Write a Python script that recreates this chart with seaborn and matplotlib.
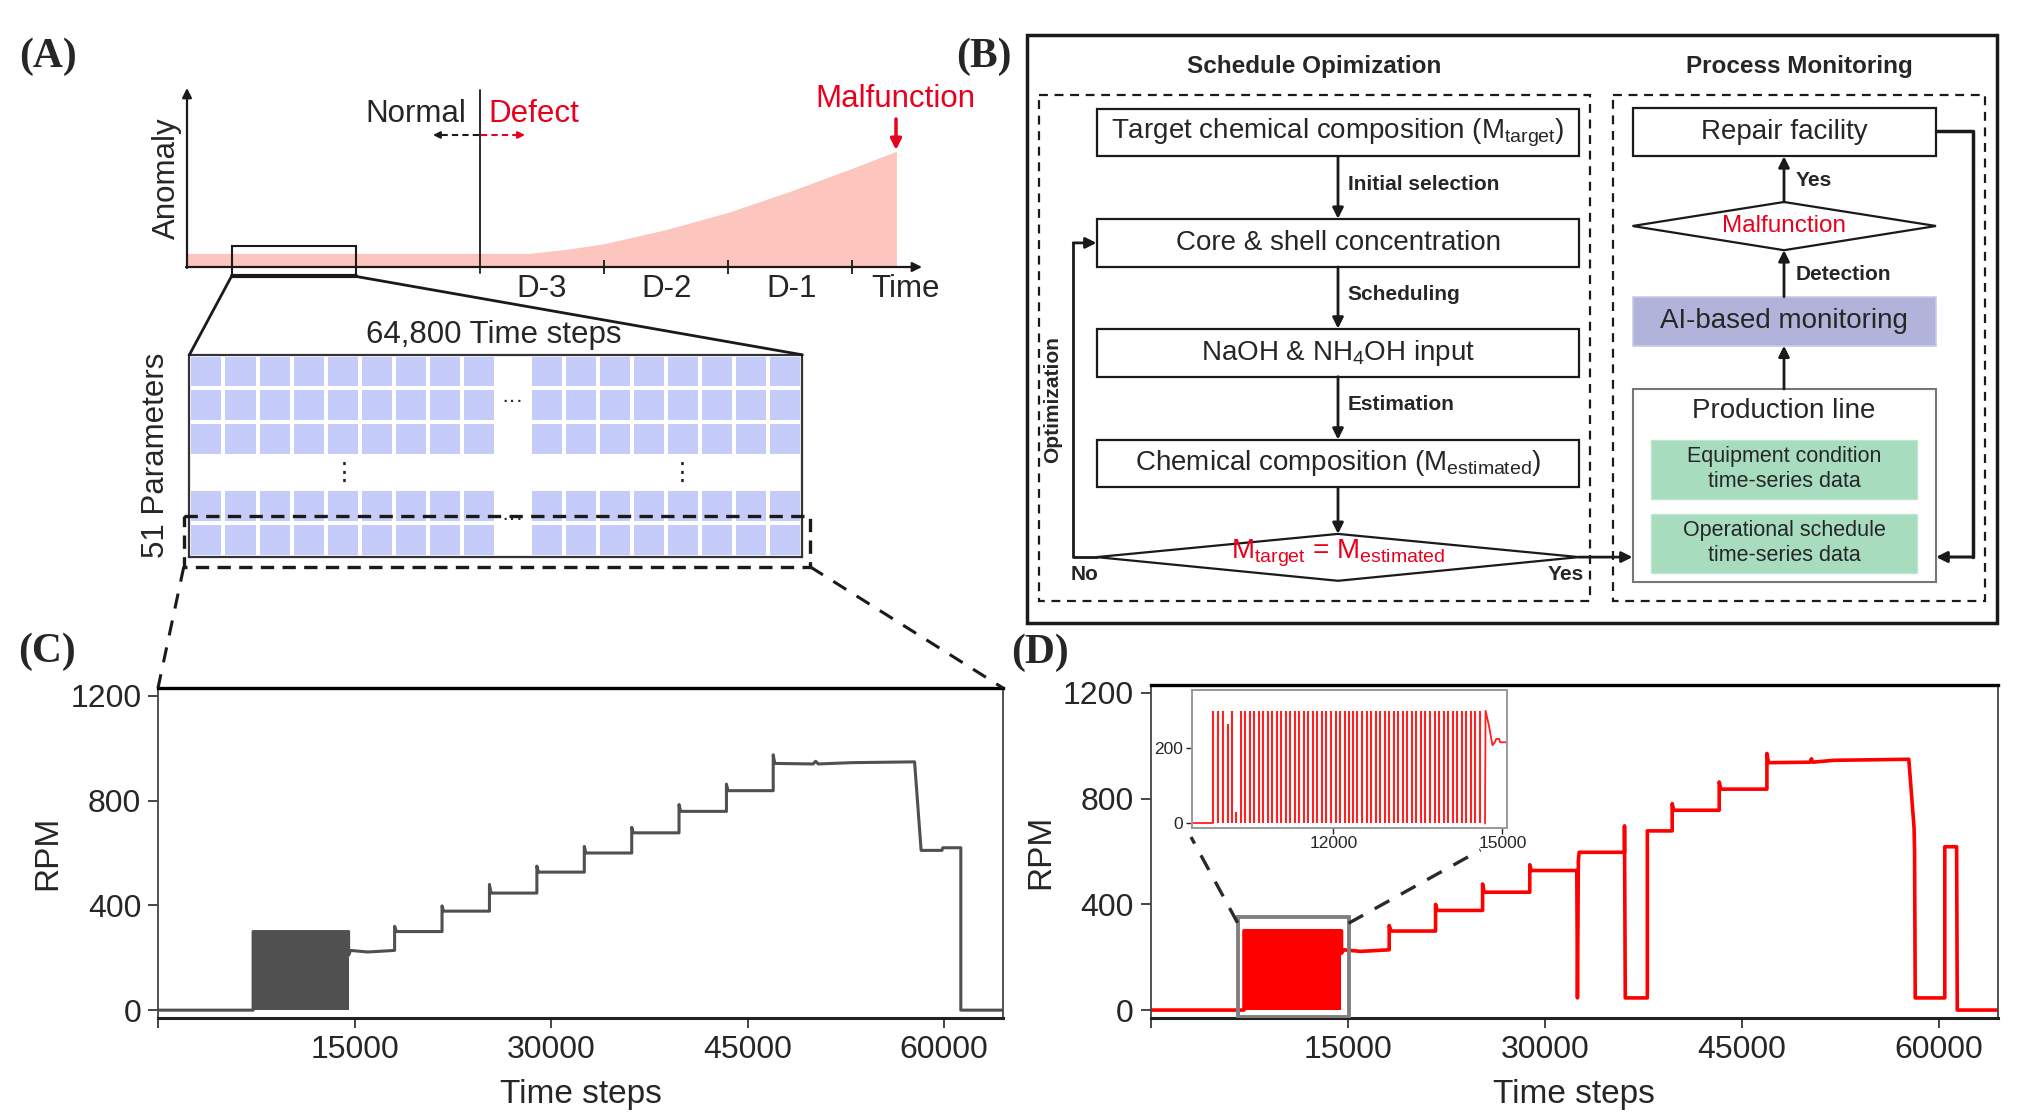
import numpy as np
import matplotlib
matplotlib.use('Agg')
import matplotlib.pyplot as plt
import seaborn as sns
from matplotlib.patches import Rectangle, Polygon
from matplotlib.colors import ListedColormap

W, H = 2044, 1119

# ---- Panel A: anomaly schematic (days relative to defect onset) ----
anom_day = [-2.36, 0.4, 0.7, 1.0, 1.5, 2.0, 2.5, 3.0, 3.36]
anom_level = [0.77, 0.77, 1.0, 1.31, 2.11, 3.08, 4.27, 5.57, 6.54]
day_ticks = [1, 2, 3]
day_labels = ['D-3', 'D-2', 'D-1', 'Time']

# data matrix sketch: 6 rows x 18 cols, one row / one column left out
grid_rows, grid_cols = 6, 18
gap_row, gap_col = 3, 9

# ---- Panel C: normal RPM trace ----
c_block = [7260, 14550]
c_time = [0, 7260, 7260, 14550, 14550, 14700, 16000, 18060, 18060, 18200, 21680, 21680, 21800,
          25300, 25300, 25420, 28920, 28920, 29040, 32540, 32540, 32660, 36160, 36160, 36280,
          39770, 39770, 39890, 43390, 43390, 43510, 46960, 46960, 47080, 50000, 50200, 50400,
          53000, 57750, 58250, 59840, 59900, 61280, 61280, 64500]
c_rpm = [0, 0, 300, 300, 210, 228, 222, 228, 320, 300, 300, 398, 378,
         378, 480, 447, 447, 550, 527, 527, 625, 600, 600, 698, 677,
         677, 785, 759, 759, 863, 838, 838, 975, 942, 940, 950, 940,
         945, 948, 610, 610, 620, 620, 0, 0]

# ---- Panel D: abnormal RPM trace ----
d_block = [7110, 14530]
d_time = [0, 7110, 7110, 14530, 14530, 14700, 16000, 18160, 18160, 18300, 21690, 21690, 21810,
          25270, 25270, 25390, 28860, 28860, 28980, 32440, 32490, 32560, 32620, 36070, 36070,
          36130, 37810, 37810, 39700, 39700, 39820, 43280, 43280, 43400, 46910, 46910, 47030,
          50200, 50300, 50400, 52000, 57710, 58110, 58150, 58200, 60450, 60450, 61350, 61400, 64500]
d_rpm = [0, 0, 300, 300, 215, 228, 222, 228, 320, 299, 299, 400, 377,
         377, 477, 446, 446, 550, 528, 528, 46, 568, 597, 597, 697,
         46, 46, 678, 678, 781, 756, 756, 863, 836, 836, 971, 936,
         938, 951, 938, 945, 949, 691, 600, 46, 46, 618, 618, 0, 0]

# inset: pulse times of the oscillation and the settling tail
inset_pulses = [9875, 9955, 10040, 10125, 10200, 10280, 10360, 10435, 10520, 10600, 10680, 10760,
                10840, 10920, 11000, 11080, 11160, 11240, 11315, 11400, 11475, 11555, 11640,
                11715, 11800, 11875, 11960, 12040, 12120, 12200, 12285, 12345, 12425, 12510,
                12590, 12670, 12750, 12830, 12910, 12990, 13070, 13150, 13235, 13310, 13395,
                13475, 13555, 13635, 13715, 13795, 13875, 13955, 14035, 14115, 14195, 14280,
                14355, 14440, 14520, 14600]
inset_heights = [300, 300, 300, 265, 300, 30, 300, 300, 300, 300, 300, 300,
                 300, 300, 300, 300, 300, 300, 300, 300, 300, 300, 300,
                 300, 300, 300, 300, 300, 300, 300, 300, 300, 300, 300,
                 300, 300, 300, 300, 300, 300, 300, 300, 300, 300, 300,
                 300, 300, 300, 300, 300, 300, 300, 300, 300, 300, 300,
                 300, 300, 300, 300]
inset_tail_t = [14690, 14700, 14760, 14823, 14860, 14890, 14940, 14960, 15080]
inset_tail_rpm = [0, 300, 260, 208, 215, 225, 225, 216, 216]

rpm_ticks = [0, 400, 800, 1200]
time_ticks = [0, 15000, 30000, 45000, 60000]

sns.set_style('ticks')
plt.rcParams['font.family'] = ['Liberation Sans', 'DejaVu Sans']
plt.rcParams['mathtext.fontset'] = 'custom'
plt.rcParams['mathtext.rm'] = 'Liberation Sans'
plt.rcParams['mathtext.it'] = 'Liberation Sans:italic'
plt.rcParams['mathtext.bf'] = 'Liberation Sans:bold'

RED = '#e8001c'
INK = '#1a1a1a'

fig = plt.figure(figsize=(W / 100, H / 100), dpi=100)


def px_axes(x0, y0, x1, y1, **kw):
    return fig.add_axes([x0 / W, 1 - y1 / H, (x1 - x0) / W, (y1 - y0) / H], **kw)


ov = px_axes(0, 0, W, H, zorder=10)
ov.set_xlim(0, W)
ov.set_ylim(H, 0)
ov.axis('off')
ov.patch.set_alpha(0)


def arrow(x0, y0, x1, y1, lw=2.0, color=INK, ms=16):
    ov.annotate('', xy=(x1, y1), xytext=(x0, y0),
                arrowprops=dict(arrowstyle='-|>', lw=lw, color=color, mutation_scale=ms,
                                shrinkA=0, shrinkB=0))


def label(x, y, s):
    ov.text(x, y, s, fontsize=30, fontweight='bold', family='Liberation Serif',
            ha='center', va='center')


# ================= Panel A =================
label(48, 57, '(A)')
anom = px_axes(187, 90, 920, 267)
anom.set_xlim(-2.36, 3.55)
anom.set_ylim(0, 10)
anom.axis('off')
anom.fill_between(anom_day, 0, anom_level, color='#fcc5bd', lw=0)
anom.plot([0, 0], [-0.33, 10], color=INK, lw=1.3, clip_on=False)
anom.vlines(day_ticks, -0.37, 0.4, color=INK, lw=1.3, clip_on=False)
anom.add_patch(Rectangle((-2, -0.53), 1, 1.73, fill=False, ec=INK, lw=1.5, clip_on=False))
anom.plot([-2, -1], [-0.53, -0.53], color=INK, lw=3, clip_on=False)

arrow(187, 268, 187, 88, lw=1.6, ms=14)
arrow(186, 267, 922, 267, lw=1.6, ms=14)
ov.text(466, 114, 'Normal', fontsize=22.5, ha='right', va='center')
ov.text(488, 114, 'Defect', fontsize=22.5, ha='left', va='center', color=RED)
ov.plot([479, 440], [135, 135], color=INK, lw=1.5, ls=(0, (3, 2)))
ov.plot([481, 518], [135, 135], color=RED, lw=1.5, ls=(0, (3, 2)))
arrow(440, 135, 433, 135, lw=1.5, ms=10)
arrow(518, 135, 525, 135, lw=1.5, color=RED, ms=10)
ov.text(895, 99, 'Malfunction', fontsize=22.5, ha='center', va='center', color=RED)
arrow(896, 119, 896, 150, lw=2.5, color=RED, ms=16)
for xc, s in zip([542, 666.5, 792, 905.6], day_labels):
    ov.text(xc, 289, s, fontsize=22.5, ha='center', va='center')
ov.text(167, 178, 'Anomaly', fontsize=22.5, rotation=90, ha='center', va='center')

ov.plot([231.5, 189.4], [276.3, 354.8], color=INK, lw=2)
ov.plot([355.2, 802.3], [276.3, 354.8], color=INK, lw=2)
ov.text(494, 335, '64,800 Time steps', fontsize=22.5, ha='center', va='center')
ov.text(156, 455, '51 Parameters', fontsize=22.5, rotation=90, ha='center', va='center')

hm = px_axes(189.4, 354.8, 802.3, 556.8)
grid = np.ones((grid_rows, grid_cols))
mask = np.zeros_like(grid, dtype=bool)
mask[gap_row, :] = True
mask[:, gap_col] = True
sns.heatmap(grid, mask=mask, cmap=ListedColormap(['#c6ccfa']), cbar=False,
            linewidths=2.6, linecolor='white', xticklabels=False, yticklabels=False, ax=hm)
for s in hm.spines.values():
    s.set_visible(True)
    s.set_color('#333333')
    s.set_linewidth(1.6)
ov.text(512, 402, '···', fontsize=16, ha='center', va='center')
ov.text(512, 520, '···', fontsize=16, ha='center', va='center')
ov.text(344, 473, '⋮', fontsize=18, ha='center', va='center', family=['DejaVu Sans'])
ov.text(682, 473, '⋮', fontsize=18, ha='center', va='center', family=['DejaVu Sans'])
ov.add_patch(Rectangle((183.8, 516), 626.2, 50.7, fill=False, ec=INK, lw=2.4,
                       ls=(0, (4, 2.5))))
ov.plot([183.8, 158], [566.7, 688], color=INK, lw=2.2, ls=(0, (5, 4)))
ov.plot([810, 1003], [566.7, 688], color=INK, lw=2.2, ls=(0, (5, 4)))

# ================= Panel B =================
label(984, 57, '(B)')
ov.add_patch(Rectangle((1026.6, 34.7), 970, 588.6, fill=False, ec=INK, lw=2.5))
ov.text(1314, 67, 'Schedule Opimization', fontsize=17.5, fontweight='bold', ha='center', va='center')
ov.text(1799, 67, 'Process Monitoring', fontsize=17.5, fontweight='bold', ha='center', va='center')
ov.add_patch(Rectangle((1038.6, 94.7), 551.3, 506.5, fill=False, ec=INK, lw=1.6, ls=(0, (4, 3))))
ov.add_patch(Rectangle((1612.5, 94.7), 372.9, 506.5, fill=False, ec=INK, lw=1.6, ls=(0, (4, 3))))

left_boxes = [(108.6, 156.3, r'Target chemical composition (M$_\mathrm{target}$)'),
              (218.8, 267.0, 'Core & shell concentration'),
              (328.6, 376.7, r'NaOH & NH$_4$OH input'),
              (439.6, 487.3, r'Chemical composition (M$_\mathrm{estimated}$)')]
for y0, y1, s in left_boxes:
    ov.add_patch(Rectangle((1096.5, y0), 482.7, y1 - y0, fc='white', ec=INK, lw=1.6))
    ov.text(1338, (y0 + y1) / 2, s, fontsize=20, ha='center', va='center')
arrow(1338, 156.3, 1338, 218.8)
arrow(1338, 267.0, 1338, 328.6)
arrow(1338, 376.7, 1338, 439.6)
arrow(1338, 487.3, 1338, 533.9)
for yc, s in [(185, 'Initial selection'), (295, 'Scheduling'), (404, 'Estimation')]:
    ov.text(1347.5, yc, s, fontsize=15, fontweight='bold', ha='left', va='center')
ov.add_patch(Polygon([(1096.5, 557.1), (1338, 533.9), (1579, 557.1), (1338, 580.8)],
                     closed=True, fc='white', ec=INK, lw=1.6))
ov.text(1338, 553, r'M$_\mathrm{target}$ = M$_\mathrm{estimated}$', fontsize=20,
        ha='center', va='center', color=RED)
ov.text(1084.6, 575, 'No', fontsize=15, fontweight='bold', ha='center', va='center')
ov.text(1566, 575, 'Yes', fontsize=15, fontweight='bold', ha='center', va='center')
ov.plot([1096.5, 1073.2, 1073.2], [557.1, 557.1, 242.9], color=INK, lw=2)
arrow(1073.2, 242.9, 1096.5, 242.9)
ov.text(1053, 400, 'Optimization', fontsize=15, fontweight='bold', rotation=90,
        ha='center', va='center')
arrow(1579, 557.1, 1632.5, 557.1)

ov.add_patch(Rectangle((1632.5, 107.8), 303.5, 48.5, fc='white', ec=INK, lw=1.6))
ov.text(1784, 132, 'Repair facility', fontsize=20, ha='center', va='center')
ov.add_patch(Polygon([(1632.5, 226), (1784, 202), (1936, 226), (1784, 250.2)],
                     closed=True, fc='white', ec=INK, lw=1.6))
ov.text(1784, 226, 'Malfunction', fontsize=17.5, ha='center', va='center', color=RED)
arrow(1784, 202, 1784, 156.3)
ov.text(1796, 180, 'Yes', fontsize=15, fontweight='bold', ha='left', va='center')
ov.add_patch(Rectangle((1632.5, 296.7), 303.5, 49, fc='#b1b3da', ec='#c9cbe6', lw=1.2))
ov.text(1784, 321, 'AI-based monitoring', fontsize=20, ha='center', va='center')
arrow(1784, 296.7, 1784, 250.2)
ov.text(1796, 274, 'Detection', fontsize=15, fontweight='bold', ha='left', va='center')
ov.add_patch(Rectangle((1632.5, 389), 303.5, 192.6, fc='white', ec='#777777', lw=1.5))
arrow(1784, 389, 1784, 345.7)
ov.text(1784, 411, 'Production line', fontsize=20, ha='center', va='center')
for y0, y1, s in [(440, 498.8, 'Equipment condition\ntime-series data'),
                  (513.5, 572.7, 'Operational schedule\ntime-series data')]:
    ov.add_patch(Rectangle((1651, y0), 266.4, y1 - y0, fc='#a7dcbf', ec='#bfe6d0', lw=1))
    ov.text(1784, (y0 + y1) / 2, s, fontsize=15.5, ha='center', va='center', linespacing=1.25)
ov.plot([1936, 1973.4, 1973.4], [131.4, 131.4, 557], color=INK, lw=2.5)
arrow(1973.4, 557, 1936, 557, lw=2.2)


# ================= Panels C and D =================
def style_rpm(ax):
    ax.set_xlim(0, 64500)
    ax.set_ylim(-30, 1230)
    ax.set_xticks(time_ticks)
    ax.set_xticklabels([''] + [str(t) for t in time_ticks[1:]])
    ax.set_yticks(rpm_ticks)
    ax.tick_params(labelsize=23, length=7, width=1.2, direction='out', pad=5)
    ax.spines['top'].set_linewidth(2.4)
    ax.spines['top'].set_color('black')
    ax.spines['bottom'].set_linewidth(2.2)
    ax.spines['bottom'].set_color('#222222')
    for s in ['left', 'right']:
        ax.spines[s].set_linewidth(1.3)
        ax.spines[s].set_color('#444444')
    ax.set_xlabel('Time steps', fontsize=24, labelpad=10)
    ax.set_ylabel('RPM', fontsize=24, labelpad=5)


label(47, 652, '(C)')
ax_c = px_axes(158, 688, 1003, 1018)
ax_c.fill_between(c_block, 0, 300, color='#505050', lw=0)
sns.lineplot(x=c_time, y=c_rpm, sort=False, estimator=None, color='#505050', lw=2.2, ax=ax_c)
style_rpm(ax_c)

label(1040, 653, '(D)')
ax_d = px_axes(1150.6, 685, 1998, 1018)
ax_d.fill_between(d_block, 0, 300, color='#ff0000', lw=0)
sns.lineplot(x=d_time, y=d_rpm, sort=False, estimator=None, color='#ff0000', lw=2.6, ax=ax_d)
ax_d.add_patch(Rectangle((6617, -25), 8457, 379, fill=False, ec='#808080', lw=2.8, zorder=3))
style_rpm(ax_d)

ax_in = px_axes(1191.7, 690, 1507, 828, zorder=5)
ax_in.set_facecolor('white')
ax_in.vlines(inset_pulses, 0, inset_heights, color='#ff2020', lw=1.5)
sns.lineplot(x=[9490, inset_pulses[0]], y=[0, 0], color='#ff2020', lw=1.3, ax=ax_in)
sns.lineplot(x=inset_tail_t, y=inset_tail_rpm, sort=False, estimator=None,
             color='#ff2020', lw=1.3, ax=ax_in)
ax_in.set_xlim(9490, 15080)
ax_in.set_ylim(-12, 355)
ax_in.set_xticks([12000, 15000])
ax_in.set_yticks([0, 200])
ax_in.tick_params(labelsize=12.5, length=4, width=1, pad=2, direction='out')
for s in ax_in.spines.values():
    s.set_color('#999999')
    s.set_linewidth(1.4)

ov.plot([1237.5, 1191], [922.7, 837], color='#2a2a2a', lw=2.4, ls=(0, (5, 4)))
ov.plot([1348.5, 1480.5], [923.3, 850], color='#2a2a2a', lw=2.4, ls=(0, (5, 4)))

fig.savefig('out.png', dpi=100)
